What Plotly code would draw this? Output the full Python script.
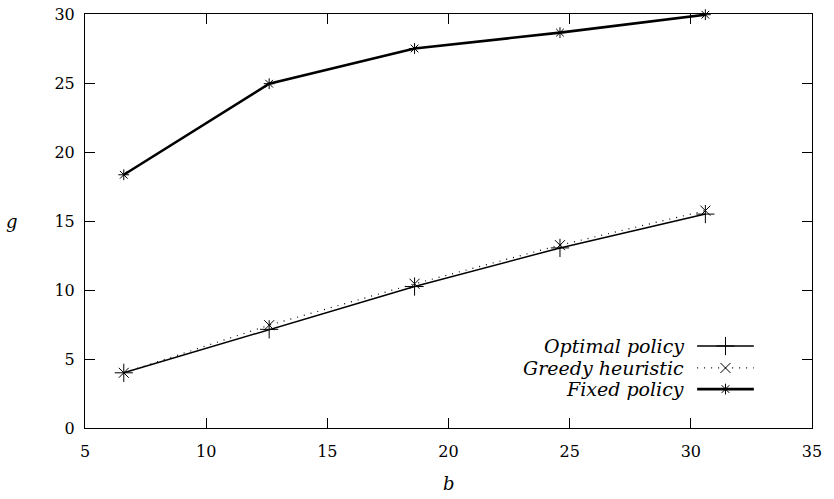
import plotly.graph_objects as go

b_values = [6.6, 12.6, 18.6, 24.6, 30.6]
optimal_policy = [4.0, 7.15, 10.25, 13.05, 15.5]
greedy_heuristic = [4.0, 7.45, 10.45, 13.25, 15.75]
fixed_policy = [18.35, 24.95, 27.5, 28.65, 29.95]

series_names = ["Optimal policy", "Greedy heuristic", "Fixed policy"]
x_ticks = [5, 10, 15, 20, 25, 30, 35]
y_ticks = [0, 5, 10, 15, 20, 25, 30]

FONT = "DejaVu Serif"

styles = [
    dict(width=1.5, dash="solid", symbol="cross-thin-open", size=13),
    dict(width=1.2, dash="1px,6px", symbol="x-thin-open", size=10),
    dict(width=2.6, dash="solid", symbol="asterisk-open", size=9),
]

fig = go.Figure()
for name, ys, st in zip(series_names, [optimal_policy, greedy_heuristic, fixed_policy], styles):
    fig.add_trace(go.Scatter(
        x=b_values, y=ys, mode="lines+markers", name=name, showlegend=False,
        line=dict(color="black", width=st["width"], dash=st["dash"]),
        marker=dict(symbol=st["symbol"], size=st["size"], color="black",
                    line=dict(color="black", width=1)),
        cliponaxis=False,
    ))

# manual gnuplot-style key (text right, sample left-to-right)
key_rows = [0.198, 0.145, 0.094]
for name, st, yk in zip(series_names, styles, key_rows):
    fig.add_trace(go.Scatter(
        x=[0.842, 0.920], y=[yk, yk], xaxis="x2", yaxis="y2", mode="lines",
        showlegend=False, hoverinfo="skip",
        line=dict(color="black", width=st["width"], dash=st["dash"]),
    ))
    fig.add_trace(go.Scatter(
        x=[0.881], y=[yk], xaxis="x2", yaxis="y2", mode="markers",
        showlegend=False, hoverinfo="skip",
        marker=dict(symbol=st["symbol"], size=st["size"], color="black",
                    line=dict(color="black", width=1)),
    ))
    fig.add_annotation(x=0.8267, y=yk, xref="paper", yref="paper", text="<i>%s</i>" % name,
                       showarrow=False, xanchor="right", yanchor="middle",
                       font=dict(family=FONT, size=19, color="black"))

axis_common = dict(
    showgrid=False, zeroline=False, showline=True, linecolor="black", linewidth=1,
    mirror="ticks", ticks="inside", ticklen=10, tickcolor="black", tickwidth=1,
    tickfont=dict(family=FONT, size=16, color="black"), automargin=False,
)

fig.update_layout(
    width=834, height=499,
    margin=dict(l=85, r=22, t=14, b=71, autoexpand=False),
    paper_bgcolor="white", plot_bgcolor="white",
    xaxis=dict(range=[5, 35], tickvals=x_ticks, ticklabelstandoff=9, **axis_common),
    yaxis=dict(range=[0, 30], tickvals=y_ticks, ticklabelstandoff=6, **axis_common),
    xaxis2=dict(range=[0, 1], overlaying="x", visible=False, fixedrange=True),
    yaxis2=dict(range=[0, 1], overlaying="y", visible=False, fixedrange=True),
    font=dict(family=FONT, color="black"),
)

fig.add_annotation(x=0.5, y=-0.135, xref="paper", yref="paper", text="<i>b</i>",
                   showarrow=False, yanchor="middle", font=dict(family=FONT, size=18, color="black"))
fig.add_annotation(x=-0.1, y=0.5, xref="paper", yref="paper", text="<i>g</i>",
                   showarrow=False, xanchor="center", yanchor="middle",
                   font=dict(family=FONT, size=18, color="black"))

fig.write_html("out.html")
